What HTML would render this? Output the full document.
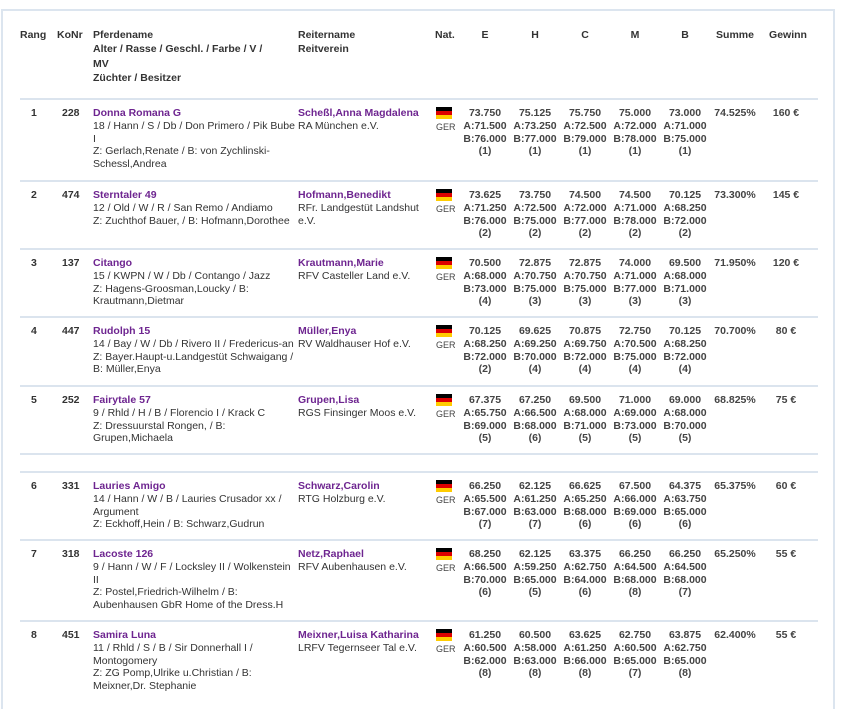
<!DOCTYPE html>
<html><head><meta charset="utf-8"><style>
body{margin:0;width:842px;height:700px;overflow:hidden;background:#fff;font-family:"Liberation Sans",Arial,sans-serif;font-size:10.5px;line-height:12.8px;color:#333;position:relative}
.frame{position:absolute;left:1px;top:9px;width:834px;height:700px;border:2px solid #dce5ef;border-bottom:none;box-sizing:border-box}
.ln{position:absolute;left:20px;width:798px;height:0;border-top:2px solid #dbe4ee}
.c{position:absolute;white-space:nowrap}
.b{font-weight:bold}
.hd{line-height:14.3px}
.p{color:#6e2590;font-weight:bold}
.ctr{text-align:center;width:60px;margin-left:-30px}
.flag{position:absolute;width:16px;height:12px;background:linear-gradient(#000 0 33%,#d00 33% 66%,#fc0 66%)}
.ger{position:absolute;font-size:9px;color:#444}
.sc{position:absolute;text-align:center;width:60px;font-weight:bold;color:#444}
</style></head><body>
<div class="frame"></div>
<div class="c b hd" style="left:20px;top:28px">Rang</div>
<div class="c b hd" style="left:57px;top:28px">KoNr</div>
<div class="c b hd" style="left:93px;top:28px">Pferdename<br>Alter / Rasse / Geschl. / Farbe / V /<br>MV<br>Züchter / Besitzer</div>
<div class="c b hd" style="left:298px;top:28px">Reitername<br>Reitverein</div>
<div class="c b hd" style="left:435px;top:28px">Nat.</div>
<div class="c b hd ctr" style="left:485px;top:28px">E</div>
<div class="c b hd ctr" style="left:535px;top:28px">H</div>
<div class="c b hd ctr" style="left:585px;top:28px">C</div>
<div class="c b hd ctr" style="left:635px;top:28px">M</div>
<div class="c b hd ctr" style="left:685px;top:28px">B</div>
<div class="c b hd ctr" style="left:735px;top:28px">Summe</div>
<div class="c b hd ctr" style="left:788px;top:28px">Gewinn</div>

<div class="ln" style="top:98px"></div>
<div class="ln" style="top:180px"></div>
<div class="ln" style="top:248px"></div>
<div class="ln" style="top:316px"></div>
<div class="ln" style="top:385px"></div>
<div class="ln" style="top:453px"></div>
<div class="ln" style="top:471px"></div>
<div class="ln" style="top:539px"></div>
<div class="ln" style="top:620px"></div>

<div id="rows"></div>
<script>
var R=[
[107,"1","228","Donna Romana G","18 / Hann / S / Db / Don Primero / Pik Bube<br>I<br>Z: Gerlach,Renate / B: von Zychlinski-<br>Schessl,Andrea","Scheßl,Anna Magdalena","RA München e.V.",[["73.750","71.500","76.000","1"],["75.125","73.250","77.000","1"],["75.750","72.500","79.000","1"],["75.000","72.000","78.000","1"],["73.000","71.000","75.000","1"]],"74.525%","160 €"],
[189,"2","474","Sterntaler 49","12 / Old / W / R / San Remo / Andiamo<br>Z: Zuchthof Bauer, / B: Hofmann,Dorothee","Hofmann,Benedikt","RFr. Landgestüt Landshut<br>e.V.",[["73.625","71.250","76.000","2"],["73.750","72.500","75.000","2"],["74.500","72.000","77.000","2"],["74.500","71.000","78.000","2"],["70.125","68.250","72.000","2"]],"73.300%","145 €"],
[257,"3","137","Citango","15 / KWPN / W / Db / Contango / Jazz<br>Z: Hagens-Groosman,Loucky / B:<br>Krautmann,Dietmar","Krautmann,Marie","RFV Casteller Land e.V.",[["70.500","68.000","73.000","4"],["72.875","70.750","75.000","3"],["72.875","70.750","75.000","3"],["74.000","71.000","77.000","3"],["69.500","68.000","71.000","3"]],"71.950%","120 €"],
[325,"4","447","Rudolph 15","14 / Bay / W / Db / Rivero II / Fredericus-an<br>Z: Bayer.Haupt-u.Landgestüt Schwaigang /<br>B: Müller,Enya","Müller,Enya","RV Waldhauser Hof e.V.",[["70.125","68.250","72.000","2"],["69.625","69.250","70.000","4"],["70.875","69.750","72.000","4"],["72.750","70.500","75.000","4"],["70.125","68.250","72.000","4"]],"70.700%","80 €"],
[394,"5","252","Fairytale 57","9 / Rhld / H / B / Florencio I / Krack C<br>Z: Dressuurstal Rongen, / B:<br>Grupen,Michaela","Grupen,Lisa","RGS Finsinger Moos e.V.",[["67.375","65.750","69.000","5"],["67.250","66.500","68.000","6"],["69.500","68.000","71.000","5"],["71.000","69.000","73.000","5"],["69.000","68.000","70.000","5"]],"68.825%","75 €"],
[480,"6","331","Lauries Amigo","14 / Hann / W / B / Lauries Crusador xx /<br>Argument<br>Z: Eckhoff,Hein / B: Schwarz,Gudrun","Schwarz,Carolin","RTG Holzburg e.V.",[["66.250","65.500","67.000","7"],["62.125","61.250","63.000","7"],["66.625","65.250","68.000","6"],["67.500","66.000","69.000","6"],["64.375","63.750","65.000","6"]],"65.375%","60 €"],
[548,"7","318","Lacoste 126","9 / Hann / W / F / Locksley II / Wolkenstein<br>II<br>Z: Postel,Friedrich-Wilhelm / B:<br>Aubenhausen GbR Home of the Dress.H","Netz,Raphael","RFV Aubenhausen e.V.",[["68.250","66.500","70.000","6"],["62.125","59.250","65.000","5"],["63.375","62.750","64.000","6"],["66.250","64.500","68.000","8"],["66.250","64.500","68.000","7"]],"65.250%","55 €"],
[629,"8","451","Samira Luna","11 / Rhld / S / B / Sir Donnerhall I /<br>Montogomery<br>Z: ZG Pomp,Ulrike u.Christian / B:<br>Meixner,Dr. Stephanie","Meixner,Luisa Katharina","LRFV Tegernseer Tal e.V.",[["61.250","60.500","62.000","8"],["60.500","58.000","63.000","8"],["63.625","61.250","66.000","8"],["62.750","60.500","65.000","7"],["63.875","62.750","65.000","8"]],"62.400%","55 €"]
];
var h="",cx=[485,535,585,635,685];
R.forEach(function(r){var t=r[0];
h+='<div class="c b" style="left:31px;top:'+t+'px">'+r[1]+'</div>';
h+='<div class="c b" style="left:62px;top:'+t+'px">'+r[2]+'</div>';
h+='<div class="c" style="left:93px;top:'+t+'px"><span class="p">'+r[3]+'</span><br>'+r[4]+'</div>';
h+='<div class="c" style="left:298px;top:'+t+'px"><span class="p">'+r[5]+'</span><br>'+r[6]+'</div>';
h+='<div class="flag" style="left:436px;top:'+(t)+'px"></div><div class="ger" style="left:436px;top:'+(t+14)+'px">GER</div>';
r[7].forEach(function(s,i){h+='<div class="sc" style="left:'+(cx[i]-30)+'px;top:'+t+'px">'+s[0]+'<br>A:'+s[1]+'<br>B:'+s[2]+'<br>('+s[3]+')</div>';});
h+='<div class="sc" style="left:705px;top:'+t+'px">'+r[8]+'</div>';
h+='<div class="sc" style="left:756px;top:'+t+'px">'+r[9]+'</div>';
});
document.getElementById("rows").innerHTML=h;
</script>
</body></html>
